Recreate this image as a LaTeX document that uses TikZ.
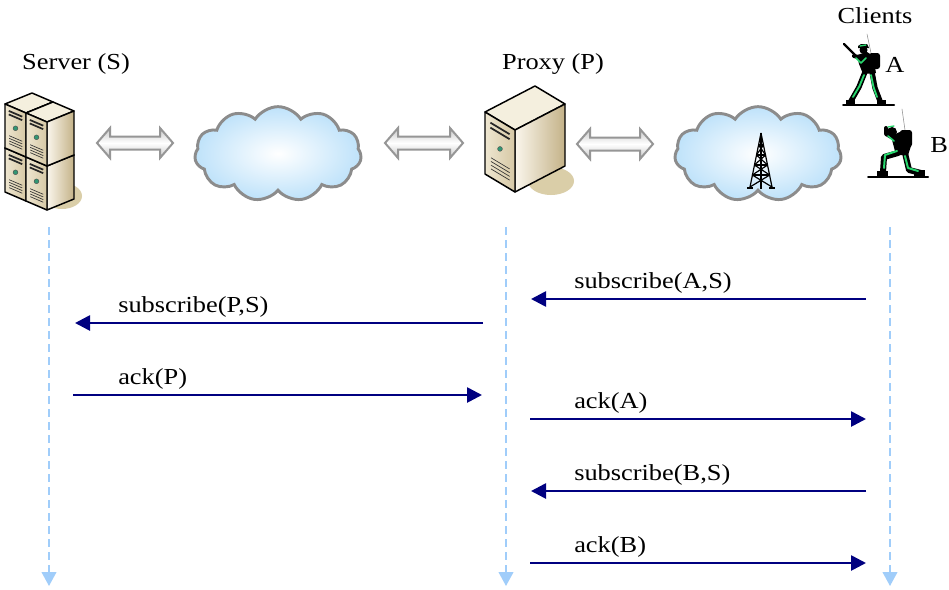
\documentclass[tikz,border=0pt]{standalone}
\usepackage{fontspec}
\setmainfont{Liberation Serif}[FakeStretch=1.15]
\usetikzlibrary{arrows.meta,shapes.symbols,calc}
\definecolor{navy}{RGB}{0,0,128}
\definecolor{lifeblue}{RGB}{160,205,250}
\definecolor{cloudblue}{RGB}{190,226,250}
\definecolor{cloudline}{RGB}{140,140,140}
\definecolor{srvtop}{RGB}{244,239,222}
\definecolor{srvfrontL}{RGB}{238,230,208}
\definecolor{srvfrontR}{RGB}{214,200,165}
\definecolor{srvsideL}{RGB}{250,246,236}
\definecolor{srvsideR}{RGB}{196,178,136}
\definecolor{srvshadow}{RGB}{218,206,168}
\definecolor{srvgreen}{RGB}{50,150,115}
\definecolor{soldgreen}{RGB}{40,215,110}
\definecolor{arrgray}{RGB}{150,150,150}
% front-top-left corner (#1,#2), front width vector (#3,#4), depth vector (#5,#6), height #7 (all in px)
\newcommand\srvunit[7]{%
  \begin{scope}[shift={(#1,#2)}]
    \filldraw[fill=srvtop, srvline] (0,0) -- (#5,#6) -- ({#3+#5},{#4+#6}) -- (#3,#4) -- cycle;
    \path[srvline, draw, left color=srvsideL, right color=srvsideR]
      (#3,#4) -- ({#3+#5},{#4+#6}) -- ({#3+#5},{#4+#6+#7}) -- (#3,{#4+#7}) -- cycle;
    \path[srvline, draw, left color=srvfrontL, right color=srvfrontR]
      (0,0) -- (#3,#4) -- (#3,{#4+#7}) -- (0,#7) -- cycle;
    \begin{scope}[x={({#3*0.75pt},{-#4*0.75pt})}, y={(0pt,{-#7*0.75pt})}]
      \draw[line width=1.3pt, black!85] (0.18,0.12) -- (0.82,0.12);
      \draw[line width=1.3pt, black!85] (0.18,0.20) -- (0.82,0.20);
      \fill[srvgreen, draw=black!70, line width=0.3pt] (0.5,0.45) circle[radius=1.8pt];
      \foreach \b in {0.68,0.74,0.80,0.86}
        \draw[line width=0.5pt, black!80] (0.2,\b) -- (0.82,\b);
    \end{scope}
  \end{scope}}
\newcommand\dblarrow[3]{%
  \path[draw=arrgray, line width=1.5pt, line join=miter, top color=black!22, bottom color=black!22, middle color=white]
    (#1,#3) -- ({#1+13},{#3-15}) -- ({#1+13},{#3-6.5}) -- ({#2-13},{#3-6.5}) -- ({#2-13},{#3-15})
    -- (#2,#3) -- ({#2-13},{#3+15}) -- ({#2-13},{#3+6.5}) -- ({#1+13},{#3+6.5}) -- ({#1+13},{#3+15}) -- cycle;}
\begin{document}
\begin{tikzpicture}[x=0.75pt,y=-0.75pt,
  every node/.style={font=\fontsize{17.2pt}{20pt}\selectfont, inner sep=0pt},
  srvline/.style={draw=black, line width=1.1pt, line join=round},
  lbl/.style={anchor=base west},
  msg/.style={navy, line width=2pt, -{Triangle[length=11.25pt,width=11.25pt]}},
  life/.style={lifeblue, line width=1.5pt, dash pattern=on 6pt off 3.75pt, -{Triangle[length=10.5pt,width=11pt]}},
  netcloud/.style={cloud, cloud puffs=11, cloud puff arc=115, cloud ignores aspect, draw=cloudline, line width=2.2pt,
     inner color=white, outer color=cloudblue, minimum width=125pt, minimum height=71pt},
  soldier/.style={line cap=round, line join=round}]
\useasboundingbox (0,0) rectangle (949,589);
\fill[white] (0,0) rectangle (949,589);

% ---- titles
\node[anchor=base] (serverlbl) at (76,69) {Server (S)};
\begin{scope}
  \clip (470,40) rectangle (640,73);
  \node[anchor=base] (proxylbl) at (553,69) {Proxy (P)};
\end{scope}
\node[anchor=base] (clientslbl) at (875,23) {Clients};

% ---- server stack
\fill[srvshadow] (62,196) ellipse[x radius=20, y radius=13];
\srvunit{5}{148}{21}{9}{27}{-11}{44}
\srvunit{5}{104}{21}{9}{27}{-11}{44}
\srvunit{26}{157}{21}{9}{27}{-11}{44}
\srvunit{26}{113}{21}{9}{27}{-11}{44}

% ---- proxy server
\fill[srvshadow] (551,181) ellipse[x radius=23, y radius=14];
\srvunit{485}{112}{30}{18}{50}{-26}{62}

% ---- double arrows
\dblarrow{97}{173}{143}
\dblarrow{385}{463}{143}
\dblarrow{577}{653}{144}

% ---- clouds
\node[netcloud] (cloud1) at (278,154) {};
\node[netcloud] (cloud2) at (758,154) {};

% ---- tower
\begin{scope}[line width=0.9pt, black]
  \draw (761,133) -- (750,187);
  \draw (761,133) -- (772,187);
  \draw (761,133) -- (761,189);
  \draw (758.5,145) -- (763.5,145) (756.4,155) -- (765.6,155) (754.4,165) -- (767.6,165) (752.3,175) -- (769.7,175);
  \draw (758.5,145) -- (765.6,155) (763.5,145) -- (756.4,155);
  \draw (756.4,155) -- (767.6,165) (765.6,155) -- (754.4,165);
  \draw (754.4,165) -- (769.7,175) (767.6,165) -- (752.3,175);
  \draw (752.3,175) -- (772,187) (769.7,175) -- (750,187);
  \draw (747,188) -- (753,188) (769,188) -- (775,188);
\end{scope}

% ---- soldier A
\begin{scope}[soldier]
  \draw[line width=1.5pt] (843,105) -- (894,105);
  \draw[black!45, line width=0.4pt] (867,34) -- (871,53);
  \draw[line width=1.8pt] (844,44) -- (857,57);
  \fill[rounded corners=2pt] (869,53) rectangle (880,69);
  \fill (857,55) -- (867,52) -- (873,56) -- (876,73) -- (863,74) -- (859,64) -- cycle;
  \fill (863.5,50) circle[radius=4];
  \fill (858,46) -- (861,44) -- (867,44) -- (869,48) -- (858,48) -- cycle;
  \draw[line width=3pt] (861,58) -- (854,56);
  \draw[line width=4pt] (865,72) -- (859,87) -- (851,101);
  \draw[line width=4pt] (872,72) -- (875,88) -- (880,101);
  \fill (846,100) rectangle (855,104);
  \fill (877,100) rectangle (886,104);
  \draw[soldgreen, line width=1.4pt] (864,75) -- (859.5,86) -- (853,97);
  \draw[soldgreen, line width=1.4pt] (871,75) -- (873.5,87) -- (877,97);
  \draw[soldgreen, line width=1.2pt] (866,58) -- (861,63) -- (856,58);
  \draw[soldgreen, line width=1pt] (860,46) -- (866,45);
\end{scope}
\node[anchor=base west] (clientA) at (885,72) {A};

% ---- soldier B
\begin{scope}[soldier]
  \draw[line width=1.5pt] (868,177) -- (928,177);
  \draw[black!45, line width=0.4pt] (902,109) -- (905,130);
  \fill[rounded corners=2pt] (900,130) rectangle (912,147);
  \fill (891,136) -- (902,131) -- (911,146) -- (908,155) -- (896,155) -- cycle;
  \fill (892,132) circle[radius=5];
  \draw[line width=3pt] (895,139) -- (886,134) -- (886,128);
  \draw[line width=4.5pt] (898,153) -- (884,157) -- (883,172);
  \draw[line width=4.5pt] (905,153) -- (909,170) -- (921,173);
  \fill (877,171) rectangle (888,176);
  \fill (914,170) rectangle (925,176);
  \draw[soldgreen, line width=1.5pt] (897,151) -- (885,155) -- (884,168);
  \draw[soldgreen, line width=1.5pt] (905,156) -- (908,168) -- (918,171);
  \draw[soldgreen, line width=1.2pt] (894,141) -- (888,136);
  \draw[soldgreen, line width=1pt] (888,127) -- (894,126);
\end{scope}
\node[anchor=base west] (clientB) at (930,152) {B};

% ---- lifelines
\coordinate (Stop) at (49,227);  \coordinate (Sbot) at (49,586);
\coordinate (Ptop) at (506,227); \coordinate (Pbot) at (506,586);
\coordinate (Ctop) at (890,227); \coordinate (Cbot) at (890,586);
\draw[life] (Stop) -- (Sbot);
\draw[life] (Ptop) -- (Pbot);
\draw[life] (Ctop) -- (Cbot);

% ---- messages
\coordinate (m1a) at (866,299); \coordinate (m1b) at (531,299);
\coordinate (m2a) at (483,323); \coordinate (m2b) at (75,323);
\coordinate (m3a) at (73,395);  \coordinate (m3b) at (482,395);
\coordinate (m4a) at (530,419); \coordinate (m4b) at (866,419);
\coordinate (m5a) at (866,491); \coordinate (m5b) at (531,491);
\coordinate (m6a) at (530,563); \coordinate (m6b) at (866,563);
\draw[msg] (m1a) -- (m1b);
\draw[msg] (m2a) -- (m2b);
\draw[msg] (m3a) -- (m3b);
\draw[msg] (m4a) -- (m4b);
\draw[msg] (m5a) -- (m5b);
\draw[msg] (m6a) -- (m6b);
\node[lbl] (l1) at (574,288.5) {subscribe(A,S)};
\node[lbl] (l2) at (118,312.5) {subscribe(P,S)};
\node[lbl] (l3) at (118,384.5) {ack(P)};
\node[lbl] (l4) at (574,408.5) {ack(A)};
\node[lbl] (l5) at (574,480.5) {subscribe(B,S)};
\node[lbl] (l6) at (574,552.5) {ack(B)};
\end{tikzpicture}
\end{document}
